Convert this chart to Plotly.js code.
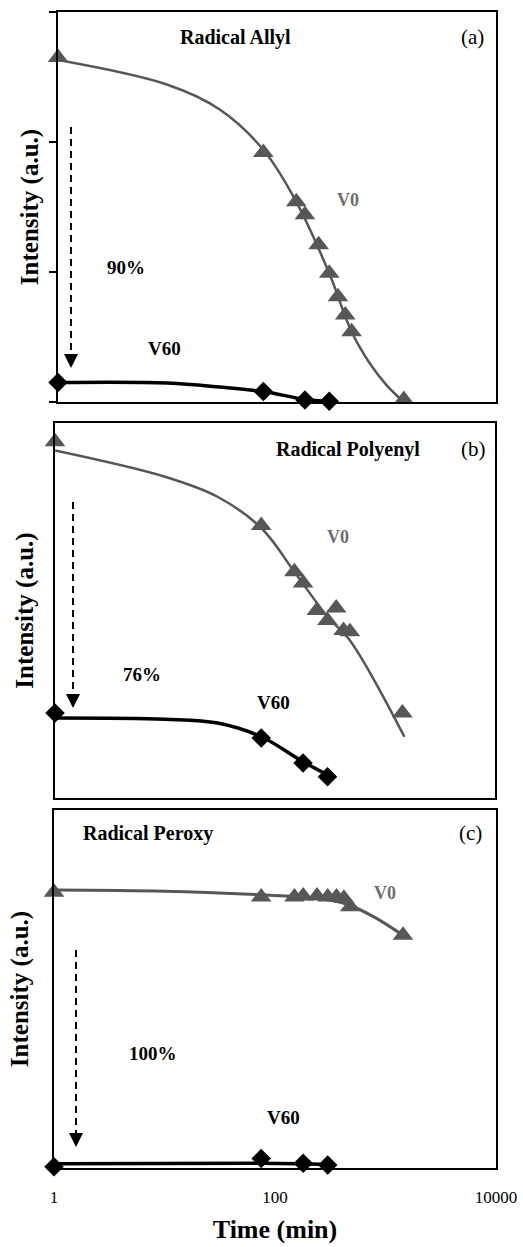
<!DOCTYPE html>
<html>
<head>
<meta charset="utf-8">
<script src="https://cdn.plot.ly/plotly-3.0.1.min.js"></script>
<style>html,body{margin:0;padding:0;background:#fff;}#chart{width:523px;height:1247px;}</style>
</head>
<body>
<div id="chart"></div>
<script>
// ---- data ----
const timeV0 = [1, 75, 150, 180, 240, 300, 360, 420, 480, 1440];
const timeV60 = [1, 75, 180, 300];

const allylV0 = [2.65, 1.92, 1.54, 1.44, 1.21, 0.99, 0.81, 0.67, 0.54, 0.02];
const allylV60 = [0.15, 0.08, 0.015, 0.005];
const polyenylV0 = [2.85, 2.18, 1.81, 1.72, 1.50, 1.42, 1.52, 1.34, 1.33, 0.68];
const polyenylV60 = [0.68, 0.48, 0.28, 0.17];
const peroxyV0 = [2.31, 2.27, 2.27, 2.28, 2.28, 2.27, 2.27, 2.26, 2.19, 1.95];
const peroxyV60 = [0.01, 0.08, 0.04, 0.025];

// trend curves drawn in the reference
const allylV0FitT = [1, 10, 30, 75, 150, 300, 480, 700, 1000, 1440];
const allylV0Fit = [2.63, 2.44, 2.25, 1.94, 1.54, 0.99, 0.54, 0.30, 0.13, 0.0];
const allylV60FitT = [1, 10, 30, 75, 180, 300];
const allylV60Fit = [0.15, 0.146, 0.115, 0.08, 0.02, 0.005];

const polyV0FitT = [1, 10, 30, 75, 150, 300, 480, 1500];
const polyV0Fit = [2.78, 2.57, 2.41, 2.16, 1.81, 1.45, 1.26, 0.49];
const polyV60FitT = [1, 10, 30, 75, 180, 340];
const polyV60Fit = [0.64, 0.63, 0.60, 0.49, 0.29, 0.16];

const peroxyV0FitT = [1, 10, 75, 180, 300, 480, 800, 1440];
const peroxyV0Fit = [2.33, 2.32, 2.29, 2.27, 2.25, 2.20, 2.10, 1.95];
const peroxyV60FitT = [1, 75, 180, 300];
const peroxyV60Fit = [0.035, 0.04, 0.035, 0.03];

const xTickVals = [1, 100, 10000];
const xTickText = ['1', '100', '10000'];
const panelTitles = ['Radical Allyl', 'Radical Polyenyl', 'Radical Peroxy'];
const panelTags = ['(a)', '(b)', '(c)'];
const reductions = ['90%', '76%', '100%'];

// ---- styling ----
const SERIF = 'Liberation Serif, Times New Roman, serif';
const GRAY = '#575757';
const W = 523, H = 1247;
const px = v => v / W;
const py = v => 1 - v / H;

function lineTrace(x, y, xa, ya, color, width) {
  return {x: x, y: y, xaxis: xa, yaxis: ya, type: 'scatter', mode: 'lines',
          line: {color: color, width: width, shape: 'spline', smoothing: 1}, hoverinfo: 'skip'};
}
function markTrace(x, y, xa, ya, sym, color, size, name) {
  return {x: x, y: y, xaxis: xa, yaxis: ya, type: 'scatter', mode: 'markers', name: name,
          cliponaxis: false, marker: {symbol: sym, color: color, size: size}};
}

const TRI = 18, DIA = 15;
const data = [
  lineTrace(allylV0FitT, allylV0Fit, 'x', 'y', GRAY, 2.5),
  lineTrace(allylV60FitT, allylV60Fit, 'x', 'y', '#000', 3.5),
  markTrace(timeV0, allylV0, 'x', 'y', 'triangle-up', GRAY, TRI, 'V0'),
  markTrace(timeV60, allylV60, 'x', 'y', 'diamond', '#000', DIA, 'V60'),

  lineTrace(polyV0FitT, polyV0Fit, 'x2', 'y2', GRAY, 2.5),
  lineTrace(polyV60FitT, polyV60Fit, 'x2', 'y2', '#000', 3.5),
  markTrace(timeV0, polyenylV0, 'x2', 'y2', 'triangle-up', GRAY, TRI, 'V0'),
  markTrace(timeV60, polyenylV60, 'x2', 'y2', 'diamond', '#000', DIA, 'V60'),

  lineTrace(peroxyV0FitT, peroxyV0Fit, 'x3', 'y3', GRAY, 3),
  lineTrace(peroxyV60FitT, peroxyV60Fit, 'x3', 'y3', '#000', 3.5),
  markTrace(timeV0, peroxyV0, 'x3', 'y3', 'triangle-up', GRAY, TRI, 'V0'),
  markTrace(timeV60, peroxyV60, 'x3', 'y3', 'diamond', '#000', DIA, 'V60')
];

function xAxis(l, r, anchor, last) {
  const a = {type: 'log', range: [0, 4], domain: [px(l), px(r)], anchor: anchor,
    showgrid: false, zeroline: false, showline: true, mirror: true, linecolor: '#000', linewidth: 2,
    ticks: '', showticklabels: false, fixedrange: true};
  if (last) {
    a.showticklabels = true;
    a.tickvals = xTickVals; a.ticktext = xTickText;
    a.ticklabelstandoff = 13;
    a.tickfont = {family: SERIF, size: 17, color: '#000'};
    a.title = {text: 'Time (min)', font: {family: SERIF, size: 26, color: '#000', weight: 'bold'}, standoff: 13};
  }
  return a;
}
function yAxis(top, bottom, anchor, withTicks, standoff) {
  const a = {range: [0, 3], domain: [py(bottom), py(top)], anchor: anchor,
    showgrid: false, zeroline: false, showline: true, mirror: true, linecolor: '#000', linewidth: 2,
    showticklabels: false, fixedrange: true,
    title: {text: 'Intensity (a.u.)', font: {family: SERIF, size: 25, color: '#000', weight: 'bold'}, standoff: standoff}};
  if (withTicks) {
    a.tickvals = [0, 1, 2, 3]; a.ticks = 'outside'; a.ticklen = 7; a.tickwidth = 2; a.tickcolor = '#000';
  } else {
    a.ticks = '';
  }
  return a;
}

const annotations = [];
const shapes = [];
function txt(text, x, y, size, color, bold) {
  annotations.push({text: text, x: px(x), y: py(y), xref: 'paper', yref: 'paper',
    xanchor: 'center', yanchor: 'middle', showarrow: false,
    font: {family: SERIF, size: size, color: color, weight: bold ? 'bold' : 'normal'}});
}
function arrow(x, top, tip) {
  shapes.push({type: 'line', xref: 'paper', yref: 'paper', x0: px(x), x1: px(x), y0: py(top), y1: py(tip - 10),
    line: {color: '#000', width: 2, dash: '7px,5px'}});
  annotations.push({text: '', x: px(x), y: py(tip), xref: 'paper', yref: 'paper', showarrow: true,
    ax: 0, ay: -12, arrowhead: 2, arrowsize: 1.4, arrowwidth: 2, arrowcolor: '#000'});
}

// panel (a)
txt(panelTitles[0], 235, 37, 20, '#000', true);
txt(panelTags[0], 472, 37, 21, '#000', false);
txt('V0', 348, 200, 18, '#6e6e6e', true);
txt(reductions[0], 126, 267, 19, '#000', true);
txt('V60', 164, 348, 19, '#000', true);
arrow(71, 127, 368);
// panel (b)
txt(panelTitles[1], 348, 449, 20, '#000', true);
txt(panelTags[1], 473, 449, 21, '#000', false);
txt('V0', 338, 537, 18, '#6e6e6e', true);
txt(reductions[1], 142, 675, 19, '#000', true);
txt('V60', 273, 702, 19, '#000', true);
arrow(73, 502, 708);
// panel (c)
txt(panelTitles[2], 148, 833, 20, '#000', true);
txt(panelTags[2], 470, 833, 21, '#000', false);
txt('V0', 385, 893, 18, '#6e6e6e', true);
txt(reductions[2], 153, 1053, 19, '#000', true);
txt('V60', 283, 1117, 19, '#000', true);
arrow(76, 950, 1147);

const layout = {
  width: W, height: H,
  margin: {l: 0, r: 0, t: 0, b: 0},
  paper_bgcolor: '#fff', plot_bgcolor: '#fff',
  showlegend: false,
  font: {family: SERIF, color: '#000'},
  xaxis: xAxis(58, 496, 'y', false),
  yaxis: yAxis(12, 402, 'x', true, 3),
  xaxis2: xAxis(55, 495, 'y2', false),
  yaxis2: yAxis(423, 798, 'x2', false, 12),
  xaxis3: xAxis(54, 496, 'y3', true),
  yaxis3: yAxis(810, 1168, 'x3', false, 16),
  annotations: annotations,
  shapes: shapes
};

Plotly.newPlot('chart', data, layout, {displayModeBar: false, staticPlot: true});
</script>
</body>
</html>
